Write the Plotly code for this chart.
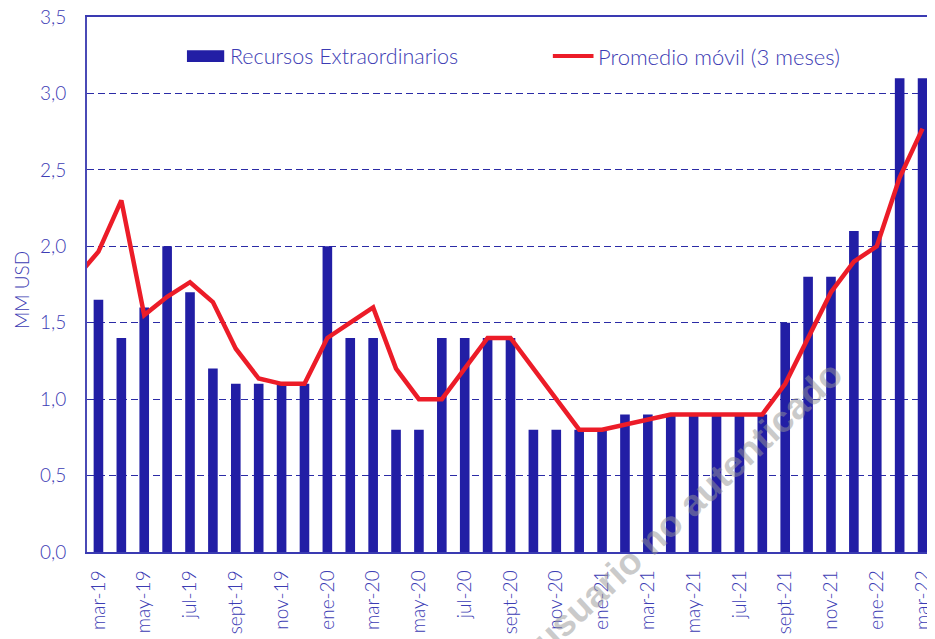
import plotly.graph_objects as go

months = ["mar-19", "abr-19", "may-19", "jun-19", "jul-19", "ago-19", "sept-19", "oct-19", "nov-19", "dic-19",
          "ene-20", "feb-20", "mar-20", "abr-20", "may-20", "jun-20", "jul-20", "ago-20", "sept-20", "oct-20",
          "nov-20", "dic-20", "ene-21", "feb-21", "mar-21", "abr-21", "may-21", "jun-21", "jul-21", "ago-21",
          "sept-21", "oct-21", "nov-21", "dic-21", "ene-22", "feb-22", "mar-22"]

recursos = [1.65, 1.4, 1.6, 2.0, 1.7, 1.2, 1.1, 1.1, 1.1, 1.1,
            2.0, 1.4, 1.4, 0.8, 0.8, 1.4, 1.4, 1.4, 1.4, 0.8,
            0.8, 0.8, 0.8, 0.9, 0.9, 0.9, 0.9, 0.9, 0.9, 0.9,
            1.5, 1.8, 1.8, 2.1, 2.1, 3.1, 3.1]

# moving-average line (starts one month before the first bar; clipped at the axis)
ma_months = ["feb-19"] + months
promedio = [1.79, 1.965, 2.30, 1.55, 1.67, 1.765, 1.635, 1.33, 1.135, 1.10, 1.10,
            1.40, 1.50, 1.60, 1.20, 1.00, 1.00, 1.20, 1.40, 1.40, 1.20,
            1.00, 0.80, 0.80, 0.835, 0.865, 0.90, 0.90, 0.90, 0.90, 0.90,
            1.10, 1.40, 1.70, 1.90, 2.00, 2.45, 2.77]

tick_labels = ["mar-19", "may-19", "jul-19", "sept-19", "nov-19", "ene-20", "mar-20", "may-20", "jul-20",
               "sept-20", "nov-20", "ene-21", "mar-21", "may-21", "jul-21", "sept-21", "nov-21", "ene-22", "mar-22"]
y_ticks = [0, 0.5, 1.0, 1.5, 2.0, 2.5, 3.0, 3.5]
y_tick_text = ["0,0", "0,5", "1,0", "1,5", "2,0", "2,5", "3,0", "3,5"]

BAR = "#221ea5"
RED = "#ec1c28"
TXT = "#3c3cb4"
FONT = "Lato"

fig = go.Figure()
fig.add_trace(go.Bar(x=months, y=recursos, name="Recursos Extraordinarios",
                     marker=dict(color=BAR, line=dict(width=0)), width=0.42, showlegend=False))
fig.add_trace(go.Scatter(x=ma_months, y=promedio, name="Promedio móvil (3 meses)", mode="lines",
                         line=dict(color=RED, width=4.5), showlegend=False, cliponaxis=True))

fig.update_layout(
    width=935, height=639,
    margin=dict(l=79, r=9, t=9, b=95, autoexpand=False),
    paper_bgcolor="white", plot_bgcolor="white",
    font=dict(family=FONT, color=TXT, size=19, weight=300),
)
fig.update_xaxes(
    type="category", categoryorder="array", categoryarray=ma_months,
    range=[0.5, len(ma_months) - 0.5], automargin=False,
    tickmode="array", tickvals=tick_labels, ticktext=tick_labels,
    tickangle=-90, tickfont=dict(size=19, color=TXT, weight=300),
    showgrid=False, showline=True, linecolor="#3a3ab2", linewidth=1.5, mirror=True,
    ticks="", ticklabelstandoff=9, ticklabeloverflow="allow",
)
fig.update_yaxes(
    range=[0, 3.5], tickmode="array", tickvals=y_ticks, ticktext=y_tick_text, automargin=False,
    tickfont=dict(size=19, color=TXT, weight=300),
    showgrid=True, gridcolor="#2b2ba6", gridwidth=1.2, griddash="7px,4px",
    showline=True, linecolor="#4a4ab6", linewidth=1.8, mirror=True,
    zeroline=False, ticks="", ticklabelstandoff=15, ticklabeloverflow="allow",
)

# y-axis title
fig.add_annotation(xref="paper", yref="paper", x=-0.0767, y=0.49, xanchor="center", yanchor="middle",
                   text="MM USD", showarrow=False, textangle=-90,
                   font=dict(size=19, color=TXT, family=FONT, weight=300))

# legend drawn at the top of the plot area
fig.add_shape(type="rect", xref="paper", yref="paper", x0=0.118, x1=0.162, y0=0.916, y1=0.938,
              fillcolor=BAR, line=dict(width=0))
fig.add_annotation(xref="paper", yref="paper", x=0.166, y=0.927, xanchor="left", yanchor="middle",
                   text="Recursos Extraordinarios", showarrow=False,
                   font=dict(size=21.5, color=TXT, family=FONT, weight=300))
fig.add_shape(type="line", xref="paper", yref="paper", x0=0.550, x1=0.598, y0=0.927, y1=0.927,
              line=dict(color=RED, width=4))
fig.add_annotation(xref="paper", yref="paper", x=0.601, y=0.927, xanchor="left", yanchor="middle",
                   text="Promedio móvil (3 meses)", showarrow=False,
                   font=dict(size=22, color=TXT, family=FONT, weight=300))

# watermark
fig.add_annotation(xref="paper", yref="paper", x=0.7085, y=0.084, xanchor="center", yanchor="middle",
                   text="<b>usuario no autenticado</b>", showarrow=False, textangle=-43,
                   font=dict(size=37, color="rgba(150,150,150,0.5)", family="Liberation Sans"))

fig.write_html("out.html")
